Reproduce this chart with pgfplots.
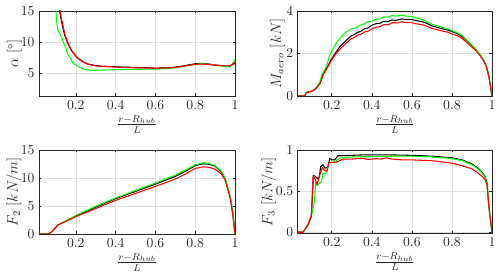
\documentclass[border=0pt]{standalone}
\usepackage{pgfplots}
\pgfplotsset{compat=1.18}
\definecolor{gridc}{RGB}{223,223,223}
\definecolor{axc}{RGB}{38,38,38}
\definecolor{mgreen}{RGB}{0,255,0}
\definecolor{mred}{RGB}{255,0,0}
\pgfplotsset{
  myax/.style={
    scale only axis, anchor=south west,
    axis line style={axc, line width=0.5pt},
    tick style={axc, line width=0.5pt},
    major tick length=2pt,
    tick align=inside,
    grid=major, grid style={gridc, line width=0.5pt},
    ticklabel style={font=\fontsize{10.6}{12}\selectfont, text=axc},
    label style={font=\fontsize{12}{14}\selectfont, text=axc},
    xtick={0.2,0.4,0.6,0.8,1},
    xmax=1,
    xlabel={$\frac{r-R_{hub}}{L}$},
    xlabel style={yshift=2pt},
    every axis plot/.append style={line width=0.85pt, line join=round},
  }
}
\begin{document}
\begin{tikzpicture}
\path[use as bounding box] (0,0) rectangle (400pt,222.4pt);
% ---------- alpha ----------
\begin{axis}[myax, at={(31.2pt,145.6pt)}, width=156.8pt, height=68pt,
  xmin=0.015, ymin=1.3, ymax=15, ytick={5,10,15},
  ylabel={$\alpha\ [^\circ]$},
  ylabel style={at={(axis description cs:-0.125,0.5)}, anchor=center}]
\addplot[black] coordinates {
(0.100,18) (0.118,15.1) (0.130,13.0) (0.144,11.1) (0.160,9.8) (0.177,8.7) (0.195,7.9)
(0.210,7.4) (0.235,6.8) (0.26,6.45) (0.30,6.2) (0.33,6.1) (0.40,6.0) (0.50,5.9)
(0.55,5.85) (0.60,5.8) (0.65,5.82) (0.70,5.95) (0.75,6.2) (0.80,6.5) (0.83,6.55)
(0.86,6.5) (0.90,6.3) (0.95,6.15) (0.975,6.15) (0.99,6.4) (1.0,6.6)};
\addplot[mgreen] coordinates {
(0.095,17) (0.100,15) (0.105,13.0) (0.11,12.0) (0.125,11.0) (0.14,9.8) (0.15,9.0)
(0.16,8.0) (0.175,7.3) (0.185,6.6) (0.2,6.3) (0.22,5.9) (0.244,5.6) (0.27,5.45)
(0.3,5.45) (0.35,5.5) (0.4,5.55) (0.5,5.6) (0.6,5.65) (0.65,5.7) (0.7,5.85)
(0.75,6.1) (0.8,6.4) (0.83,6.5) (0.86,6.45) (0.9,6.25) (0.95,6.05) (0.975,6.0)
(0.99,6.6) (1.0,7.2)};
\addplot[mred] coordinates {
(0.103,18) (0.12,15) (0.133,13) (0.147,11) (0.163,9.7) (0.18,8.6) (0.2,7.75)
(0.215,7.3) (0.24,6.75) (0.27,6.35) (0.3,6.15) (0.35,6.05) (0.4,5.95) (0.5,5.85)
(0.6,5.78) (0.65,5.8) (0.7,5.9) (0.75,6.15) (0.8,6.4) (0.83,6.45) (0.86,6.4)
(0.9,6.25) (0.95,6.15) (0.975,6.15) (0.99,6.5) (1.0,6.75)};
\end{axis}
% ---------- M_aero ----------
\begin{axis}[myax, at={(238.2pt,145.6pt)}, width=155.4pt, height=68pt,
  xmin=0.03, ymin=0, ymax=4, ytick={0,2,4},
  ylabel={$M_{aero}\ [kN]$},
  ylabel style={at={(axis description cs:-0.105,0.5)}, anchor=center}]
\addplot[black] coordinates {
(0.03,0) (0.065,0) (0.073,0.16) (0.085,0.2) (0.098,0.22) (0.115,0.3) (0.13,0.45)
(0.14,0.58) (0.15,0.85) (0.157,1.06) (0.173,1.29) (0.185,1.5) (0.198,1.72)
(0.22,2.05) (0.24,2.31) (0.27,2.6) (0.298,2.83) (0.31,2.88) (0.33,3.0) (0.345,3.04)
(0.365,3.18) (0.38,3.2) (0.40,3.33) (0.423,3.41) (0.44,3.42) (0.46,3.52) (0.48,3.50)
(0.5,3.58) (0.52,3.56) (0.55,3.63) (0.57,3.60) (0.6,3.60) (0.62,3.55) (0.65,3.5)
(0.67,3.44) (0.7,3.3) (0.72,3.25) (0.75,3.17) (0.78,3.1) (0.806,3.02) (0.83,2.92)
(0.85,2.8) (0.874,2.6) (0.9,2.35) (0.92,2.17) (0.94,1.95) (0.96,1.65) (0.973,1.37)
(0.985,0.9) (1.0,0)};
\addplot[mgreen] coordinates {
(0.03,0) (0.065,0) (0.073,0.16) (0.085,0.2) (0.098,0.22) (0.115,0.32) (0.13,0.5)
(0.14,0.65) (0.15,1.0) (0.16,1.15) (0.175,1.45) (0.19,1.92) (0.21,2.3) (0.232,2.63)
(0.25,2.82) (0.273,3.02) (0.3,3.17) (0.32,3.2) (0.34,3.33) (0.36,3.38) (0.38,3.5)
(0.40,3.52) (0.423,3.62) (0.44,3.63) (0.46,3.72) (0.48,3.71) (0.5,3.79) (0.52,3.76)
(0.55,3.8) (0.57,3.76) (0.6,3.74) (0.62,3.68) (0.65,3.6) (0.67,3.52) (0.7,3.38)
(0.72,3.32) (0.75,3.23) (0.78,3.15) (0.8,3.08) (0.83,2.96) (0.85,2.85)
(0.874,2.63) (0.9,2.38) (0.92,2.19) (0.94,1.97) (0.96,1.66) (0.973,1.37) (0.985,0.9)
(1.0,0)};
\addplot[mred] coordinates {
(0.03,0) (0.065,0) (0.073,0.15) (0.085,0.19) (0.098,0.21) (0.115,0.3) (0.13,0.45)
(0.14,0.58) (0.15,0.8) (0.157,1.0) (0.173,1.25) (0.185,1.45) (0.2,1.7) (0.22,1.98)
(0.24,2.2) (0.27,2.48) (0.298,2.7) (0.31,2.74) (0.33,2.87) (0.345,2.9) (0.365,3.02)
(0.38,3.05) (0.4,3.16) (0.423,3.25) (0.44,3.26) (0.46,3.36) (0.48,3.35)
(0.506,3.45) (0.53,3.44) (0.55,3.49) (0.57,3.46) (0.6,3.45) (0.62,3.4) (0.65,3.36)
(0.67,3.3) (0.7,3.18) (0.72,3.14) (0.75,3.06) (0.78,3.0) (0.8,2.92) (0.83,2.83)
(0.85,2.72) (0.874,2.52) (0.9,2.3) (0.92,2.13) (0.94,1.9) (0.96,1.62) (0.973,1.35)
(0.985,0.9) (1.0,0)};
\end{axis}
% ---------- F2 ----------
\begin{axis}[myax, at={(31.2pt,35.2pt)}, width=156.8pt, height=67.2pt,
  xmin=0.015, ymin=0, ymax=15, ytick={0,5,10,15},
  ylabel={$F_2\ [kN/m]$},
  ylabel style={at={(axis description cs:-0.128,0.5)}, anchor=center}]
\addplot[black] coordinates {
(0.015,0) (0.06,0) (0.077,0.3) (0.094,1.0) (0.11,1.6) (0.127,1.9) (0.15,2.3)
(0.2,3.2) (0.3,4.8) (0.4,6.3) (0.5,7.6) (0.6,8.9) (0.7,10.3) (0.75,11.2) (0.8,12.2)
(0.84,12.55) (0.87,12.45) (0.9,12.1) (0.93,11.2) (0.95,9.9) (0.97,7.4) (0.98,5.8)
(0.99,3.3) (1.0,0)};
\addplot[mgreen] coordinates {
(0.015,0) (0.06,0) (0.077,0.3) (0.094,1.0) (0.11,1.6) (0.127,1.95) (0.15,2.35)
(0.2,3.3) (0.3,4.95) (0.4,6.45) (0.5,7.8) (0.6,9.1) (0.7,10.5) (0.75,11.4)
(0.8,12.35) (0.84,12.7) (0.87,12.6) (0.9,12.2) (0.93,11.3) (0.95,10.0) (0.97,7.5)
(0.98,5.9) (0.99,3.4) (1.0,0)};
\addplot[mred] coordinates {
(0.015,0) (0.06,0) (0.077,0.3) (0.094,1.0) (0.11,1.6) (0.127,1.9) (0.15,2.25)
(0.2,3.1) (0.3,4.55) (0.4,6.0) (0.5,7.25) (0.6,8.5) (0.7,9.8) (0.75,10.7)
(0.8,11.7) (0.84,12.0) (0.87,11.9) (0.9,11.55) (0.93,10.8) (0.95,9.6) (0.97,7.2)
(0.98,5.6) (0.99,3.2) (1.0,0)};
\end{axis}
% ---------- F3 ----------
\begin{axis}[myax, at={(238.2pt,35.8pt)}, width=155.4pt, height=66.6pt,
  xmin=0.03, ymin=-0.012, ymax=1, ytick={0,0.5,1},
  ylabel={$F_3\ [kN/m]$},
  ylabel style={at={(axis description cs:-0.15,0.5)}, anchor=center}]
\addplot[black] coordinates {
(0.03,0) (0.055,0) (0.065,0.03) (0.082,0.09) (0.098,0.19) (0.108,0.69) (0.118,0.68)
(0.128,0.65) (0.137,0.67) (0.145,0.8) (0.157,0.82) (0.165,0.78) (0.18,0.79)
(0.19,0.9) (0.2,0.88) (0.215,0.88) (0.23,0.93) (0.25,0.93) (0.3,0.935) (0.35,0.94)
(0.4,0.94) (0.5,0.94) (0.6,0.935) (0.7,0.925) (0.8,0.905) (0.85,0.88) (0.9,0.83)
(0.93,0.78) (0.95,0.73) (0.965,0.68) (0.975,0.6) (0.985,0.3) (1.0,0)};
\addplot[mgreen] coordinates {
(0.03,0) (0.055,0) (0.065,0.03) (0.082,0.1) (0.1,0.22) (0.112,0.35) (0.12,0.61)
(0.127,0.57) (0.14,0.6) (0.148,0.61) (0.157,0.72) (0.173,0.72) (0.187,0.84)
(0.215,0.86) (0.24,0.9) (0.3,0.915) (0.4,0.92) (0.5,0.925) (0.6,0.925) (0.7,0.915)
(0.8,0.895) (0.85,0.87) (0.9,0.82) (0.93,0.77) (0.95,0.72) (0.965,0.67)
(0.975,0.59) (0.985,0.3) (1.0,0)};
\addplot[mred] coordinates {
(0.03,0) (0.055,0) (0.065,0.03) (0.082,0.1) (0.098,0.2) (0.107,0.69) (0.118,0.64)
(0.127,0.58) (0.14,0.7) (0.153,0.785) (0.165,0.75) (0.175,0.74) (0.187,0.85)
(0.22,0.85) (0.256,0.89) (0.3,0.89) (0.35,0.9) (0.38,0.885) (0.42,0.895) (0.45,0.89)
(0.47,0.905) (0.5,0.89) (0.55,0.88) (0.6,0.88) (0.7,0.87) (0.8,0.84) (0.85,0.81)
(0.9,0.77) (0.93,0.72) (0.95,0.68) (0.965,0.64) (0.975,0.58) (0.985,0.3) (1.0,0)};
\end{axis}
\end{tikzpicture}
\end{document}
